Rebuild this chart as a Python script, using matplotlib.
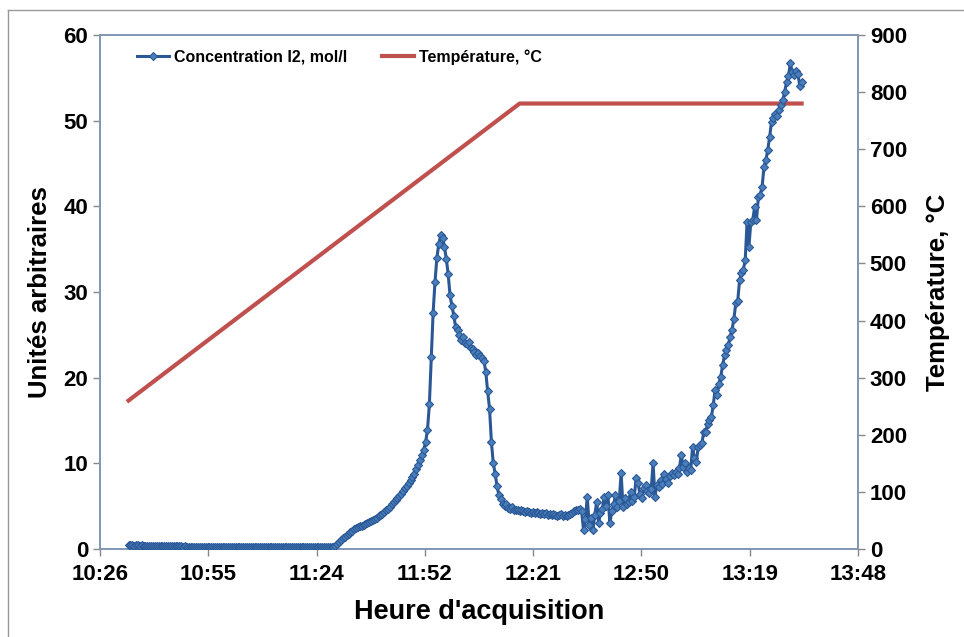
import numpy as np
import matplotlib
matplotlib.use("Agg")
import matplotlib.pyplot as plt
from matplotlib.lines import Line2D

plt.rcParams['font.family'] = ['Liberation Sans', 'DejaVu Sans']
plt.rcParams['font.weight'] = 'bold'

# concentration I2 sampled every 30 s starting at 10:34
conc_start = "10:34"
conc_step_s = 30
conc = [
    0.45, 0.42, 0.44, 0.40, 0.43, 0.41, 0.40, 0.42, 0.39, 0.40, 0.38, 0.40, 0.37, 0.38, 0.36, 0.37, 0.35, 0.36, 0.34, 0.35,
    0.33, 0.34, 0.32, 0.33, 0.31, 0.32, 0.30, 0.31, 0.30, 0.29, 0.30, 0.28, 0.29, 0.27, 0.28, 0.27, 0.26, 0.27, 0.25, 0.26,
    0.25, 0.24, 0.25, 0.23, 0.24, 0.22, 0.23, 0.22, 0.21, 0.22, 0.21, 0.20, 0.22, 0.21, 0.20, 0.21, 0.19, 0.20, 0.21, 0.20,
    0.20, 0.21, 0.19, 0.20, 0.22, 0.21, 0.20, 0.19, 0.20, 0.21, 0.20, 0.19, 0.20, 0.21, 0.20, 0.19, 0.20, 0.21, 0.20, 0.19,
    0.20, 0.19, 0.18, 0.19, 0.20, 0.19, 0.18, 0.19, 0.20, 0.19, 0.18, 0.19, 0.18, 0.20, 0.19, 0.18, 0.19, 0.18, 0.19, 0.20,
    0.19, 0.18, 0.19, 0.20, 0.19, 0.18, 0.19, 0.20, 0.21, 0.22, 0.35, 0.6, 0.85, 1.0, 1.25, 1.45, 1.6, 1.75, 1.95, 2.1,
    2.3, 2.45, 2.55, 2.65, 2.7, 2.8, 2.9, 3.0, 3.15, 3.25, 3.35, 3.5, 3.65, 3.8, 3.95, 4.1, 4.3, 4.5, 4.7, 4.95,
    5.2, 5.45, 5.7, 5.95, 6.2, 6.45, 6.75, 7.1, 7.4, 7.75, 8.1, 8.45, 8.8, 9.3, 9.8, 10.4, 11.0, 11.6, 12.5, 13.9,
    16.9, 22.4, 27.6, 31.2, 34.0, 35.6, 36.6, 36.3, 35.3, 33.9, 32.1, 29.6, 28.4, 27.2, 25.9, 25.6, 25.0, 24.4, 24.8, 24.1,
    23.9, 24.2, 23.5, 23.3, 23.0, 22.7, 22.9, 22.5, 22.3, 22.0, 20.7, 18.4, 16.4, 12.5, 10.0, 8.8, 7.3, 6.3, 5.8, 5.3,
    5.0, 5.2, 4.8, 4.7, 4.9, 4.6, 4.5, 4.6, 4.4, 4.5, 4.4, 4.3, 4.4, 4.3, 4.2, 4.3, 4.2, 4.3, 4.2, 4.1,
    4.2, 4.1, 4.2, 4.0, 4.1, 4.0, 4.1, 4.0, 3.9, 4.0, 4.1, 3.9, 4.0, 3.9, 4.0, 4.1, 4.2, 4.4, 4.6, 4.5,
    4.7, 4.4, 2.2, 3.5, 6.1, 2.8, 3.6, 2.2, 4.0, 5.5, 3.0, 4.2, 4.7, 6.1, 5.0, 6.3, 3.0, 4.4, 5.2, 6.3,
    4.9, 5.6, 8.9, 4.9, 5.9, 5.2, 5.5, 6.7, 5.6, 6.1, 8.3, 7.7, 6.4, 5.9, 7.1, 7.5, 6.8, 6.5, 7.0, 10.0,
    6.1, 7.5, 7.2, 8.1, 7.6, 8.8, 8.2, 7.7, 8.5, 8.9, 8.6, 9.0, 8.8, 9.4, 11.0, 9.6, 10.0, 9.0, 9.5, 9.2,
    11.9, 10.6, 10.2, 11.9, 12.1, 12.4, 13.7, 13.7, 14.6, 15.1, 15.4, 16.8, 18.6, 18.0, 19.3, 20.1, 21.5, 22.6, 23.2, 23.8,
    24.8, 25.6, 26.9, 28.7, 28.9, 31.4, 32.2, 32.6, 33.7, 38.2, 35.3, 38.2, 38.4, 39.9, 38.4, 41.1, 41.3, 42.3, 44.6, 45.4,
    46.6, 48.1, 49.9, 50.3, 50.8, 50.6, 51.2, 51.8, 52.4, 53.4, 54.5, 55.2, 56.7, 55.7, 55.3, 55.8, 55.5, 54.1, 54.5,
]

temp_times = ["10:34", "12:18", "13:33"]
temp_values = [260, 780, 780]

xtick_labels = ["10:26", "10:55", "11:24", "11:52", "12:21", "12:50", "13:19", "13:48"]


def to_min(s):
    h, m = s.split(":")
    return int(h) * 60 + int(m)


t_conc = to_min(conc_start) + np.arange(len(conc)) * conc_step_s / 60.0
t_temp = [to_min(s) for s in temp_times]

# excel date axis: 0.435 .. 0.575 day, major unit 0.02 day
xticks = np.arange(0.435, 0.5751, 0.02) * 1440

fig = plt.figure(figsize=(9.64, 6.37), dpi=100)
ax = fig.add_axes([100 / 964, 1 - 549 / 637, 758 / 964, 514 / 637])
ax2 = ax.twinx()

blue, = ax.plot(t_conc, conc, color='#2A5896', lw=2.2, marker='D', ms=4.2,
                mfc='#4A7EBB', mec='#2A5896', mew=0.8, label='Concentration I2, mol/l', zorder=3)
red, = ax2.plot(t_temp, temp_values, color='#C0504D', lw=3, label='Température, °C', zorder=2)
ax.set_zorder(ax2.get_zorder() + 1)
ax.patch.set_visible(False)

ax.set_xlim(xticks[0], xticks[-1])
ax.set_ylim(0, 60)
ax2.set_ylim(0, 900)
ax.set_xticks(xticks)
ax.set_xticklabels(xtick_labels)
ax.set_yticks(np.arange(0, 61, 10))
ax2.set_yticks(np.arange(0, 901, 100))

spine_c = '#8096B4'
for a in (ax, ax2):
    for s in a.spines.values():
        s.set_color(spine_c)
        s.set_linewidth(1.2)
    a.tick_params(colors='#888888', labelcolor='black', labelsize=16, length=5, width=1)
ax.tick_params(axis='x', pad=6)

ax.set_xlabel("Heure d'acquisition", fontsize=19.5, fontweight='bold', labelpad=10)
ax.set_ylabel("Unités arbitraires", fontsize=18.5, fontweight='bold', labelpad=8)
ax2.set_ylabel("Température, °C", fontsize=18.5, fontweight='bold', labelpad=14)

ax.legend(handles=[blue, red], loc='upper left', bbox_to_anchor=(0.03, 1.0), ncol=2,
          frameon=False, prop={'size': 11.5, 'weight': 'bold'}, handlelength=2.0,
          columnspacing=2.2, handletextpad=0.3)

# outer chart frame (left and top edges visible)
fig.add_artist(Line2D([8 / 964, 8 / 964], [0, 1 - 10 / 637], color='#999999', lw=1))
fig.add_artist(Line2D([8 / 964, 1], [1 - 10 / 637, 1 - 10 / 637], color='#999999', lw=1))

fig.savefig('out.png', dpi=100)
